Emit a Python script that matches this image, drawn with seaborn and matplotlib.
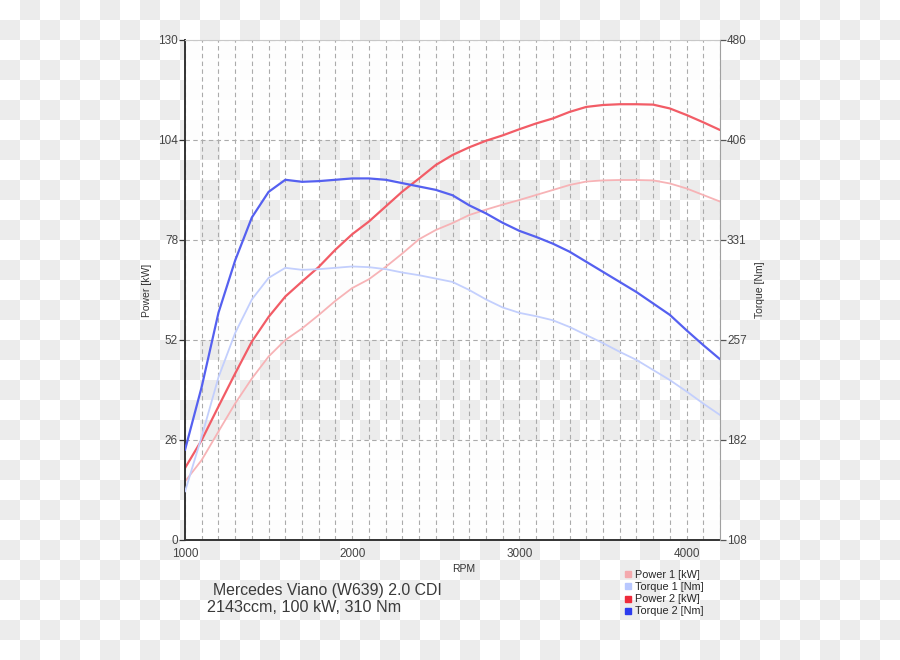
import numpy as np
import pandas as pd
import matplotlib
matplotlib.use("Agg")
import matplotlib.pyplot as plt
from matplotlib.colors import ListedColormap
from matplotlib.lines import Line2D
import seaborn as sns

# engine speed, every 100 rpm
rpm = list(range(1000, 4201, 100))

power_1 = [15.2, 20.8, 28.2, 35.5, 42.0, 47.7, 52.0, 55.0, 58.5, 62.2, 65.5,
           67.8, 71.0, 74.5, 78.2, 80.6, 82.4, 84.5, 85.9, 87.2, 88.4, 89.7,
           91.0, 92.3, 93.2, 93.5, 93.6, 93.6, 93.5, 92.7, 91.4, 89.7, 88.0]
torque_1 = [144, 185, 229, 262, 287, 303, 310.5, 309, 309.5, 310.5, 311.5,
            311, 309.5, 307, 305, 302.5, 300, 294, 287, 281, 277, 274.5,
            271.5, 266.5, 260.5, 254.5, 248, 242, 234.5, 227, 218.5, 209.5, 201]
power_2 = [18.7, 26.0, 34.7, 43.3, 51.6, 58.0, 63.3, 67.2, 71.0, 75.5, 79.5,
           82.8, 86.7, 90.6, 94.0, 97.5, 100.1, 102.1, 103.8, 105.2, 106.8, 108.3,
           109.6, 111.3, 112.6, 113.1, 113.3, 113.3, 113.2, 112.2, 110.5, 108.6, 106.6]
torque_2 = [175, 222, 277, 316, 348, 367, 376, 374.5, 375, 376, 377,
            377, 376, 373.5, 371, 368.5, 364.5, 357, 351, 344, 338, 333.5,
            328.5, 322.5, 315, 307.5, 300, 292.5, 284, 275.5, 264, 253, 242.5]

power_ticks = [0, 26, 52, 78, 104, 130]
torque_ticks = [108, 182, 257, 331, 406, 480]

df = pd.DataFrame({"RPM": rpm, "Power 1": power_1, "Torque 1": torque_1,
                   "Power 2": power_2, "Torque 2": torque_2})

sns.set_style("white")
plt.rcParams["font.family"] = ["Liberation Sans", "DejaVu Sans"]

fig = plt.figure(figsize=(9, 6.6), dpi=100)

# checkered backdrop (transparent png look)
bg = fig.add_axes([0, 0, 1, 1], zorder=-10)
rows, cols = 33, 45
checker = (np.add.outer(np.arange(rows), np.arange(cols)) % 2)
bg.imshow(checker, cmap=ListedColormap(["white", "#ececec"]), aspect="auto",
          interpolation="nearest", extent=(0, 900, 660, 0))
bg.axis("off")

ax = fig.add_axes([185/900, 1-540/660, 535/900, 500/660])
ax.patch.set_visible(False)
for lo, hi in [(0, 26), (52, 78), (104, 130)]:
    ax.axhspan(lo, hi, color="white", alpha=0.92, lw=0, zorder=0)

ax2 = ax.twinx()
ax2.patch.set_visible(False)

c_p1, c_t1, c_p2, c_t2 = "#f7b3b6", "#c3cffd", "#f25c66", "#5560f0"

sns.lineplot(data=df, x="RPM", y="Power 1", ax=ax, color=c_p1, lw=1.3)
sns.lineplot(data=df, x="RPM", y="Power 2", ax=ax, color=c_p2, lw=1.6)
sns.lineplot(data=df, x="RPM", y="Torque 1", ax=ax2, color=c_t1, lw=1.3)
sns.lineplot(data=df, x="RPM", y="Torque 2", ax=ax2, color=c_t2, lw=1.6)
for line in ax.lines + ax2.lines:
    line.set_solid_joinstyle("round")

ax.set_xlim(1000, 4200)
ax.set_ylim(0, 130)
ax2.set_ylim(108, 480)
ax.set_xticks([1000, 2000, 3000, 4000])
ax.set_xticks(rpm, minor=True)
ax.set_yticks(power_ticks)
ax2.set_yticks(np.linspace(108, 480, 6))
ax2.set_yticklabels([str(t) for t in torque_ticks])

dash = (0, (4, 3))
ax.grid(True, axis="x", which="both", ls=dash, color="#ababab", lw=0.8)
ax.grid(True, axis="y", which="major", ls=dash, color="#ababab", lw=0.8)
ax2.grid(False)

ax.tick_params(axis="x", which="both", direction="inout", length=6, width=0.9,
               color="#333333", labelsize=8.5, labelcolor="#444444", pad=3)
ax.tick_params(axis="y", direction="out", length=4, width=0.9, color="#333333",
               labelsize=8.5, labelcolor="#444444", pad=1)
ax2.tick_params(axis="y", direction="out", length=4, width=0.9, color="#555555",
                labelsize=8.5, labelcolor="#444444", pad=1)

ax.spines["left"].set_color("#333333")
ax.spines["left"].set_linewidth(1.4)
ax.spines["bottom"].set_color("#333333")
ax.spines["bottom"].set_linewidth(1.4)
ax.spines["right"].set_visible(False)
ax.spines["top"].set_color("#c8c8c8")
ax2.spines["right"].set_color("#a0a0a0")
for s in ["left", "bottom", "top"]:
    ax2.spines[s].set_visible(False)

ax.set_xlabel("RPM", fontsize=7.5, color="#333333")
ax.xaxis.set_label_coords(0.52, -0.048)
ax.set_ylabel("Power [kW]", fontsize=7.5, color="#333333")
ax.yaxis.set_label_coords(-0.062, 0.5)
ax2.set_ylabel("Torque [Nm]", fontsize=7.5, color="#333333", rotation=90)
ax2.yaxis.set_label_coords(1.066, 0.5)

fig.text(213/900, 1-590/660, "Mercedes Viano (W639) 2.0 CDI", fontsize=11.4,
         color="#3a3a3a", va="center")
fig.text(207/900, 1-608/660, "2143ccm, 100 kW, 310 Nm", fontsize=11.6,
         color="#3a3a3a", va="center")

handles = [Line2D([], [], ls="none", marker="s", ms=4.2, color=c)
           for c in ["#f4a9ad", "#b9c8ff", "#ee2b3b", "#2b3bee"]]
labels = ["Power 1 [kW]", "Torque 1 [Nm]", "Power 2 [kW]", "Torque 2 [Nm]"]
fig.legend(handles, labels, loc="upper left", bbox_to_anchor=(624/900, 1-570/660),
           frameon=False, fontsize=7.8, handlelength=0.7, handletextpad=0.3,
           labelspacing=0.2, borderpad=0, borderaxespad=0)

fig.savefig("out.png", dpi=100)
